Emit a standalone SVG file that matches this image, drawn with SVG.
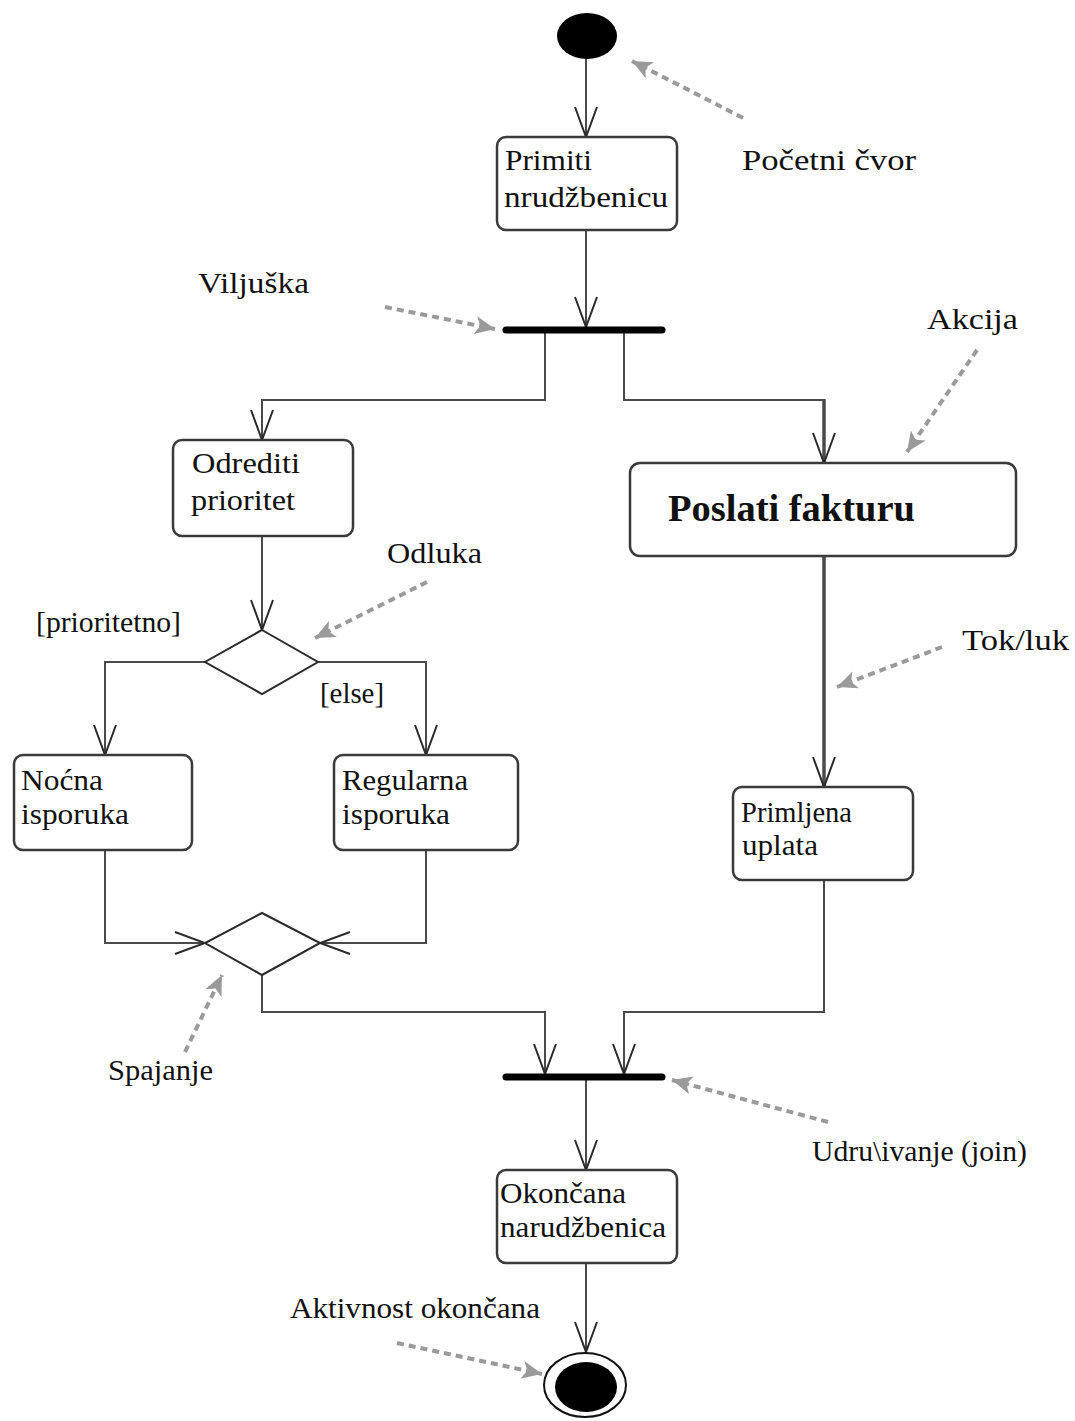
<svg xmlns="http://www.w3.org/2000/svg" width="1075" height="1421" viewBox="0 0 1075 1421">
  <style>
    .box { fill: #ffffff; stroke: #3a3a3a; stroke-width: 2.5; }
    .lbl { font-family: "Liberation Serif", "DejaVu Serif", serif; font-size: 30px; fill: #111111; }
    .big { font-family: "Liberation Serif", "DejaVu Serif", serif; font-size: 38px; font-weight: bold; fill: #111111; }
    .flow { fill: none; stroke: #4a4a4a; stroke-width: 2; marker-end: url(#open); }
    .seg { fill: none; stroke: #4a4a4a; stroke-width: 2; }
    .thick { stroke-width: 3.5; }
    .note { fill: none; stroke: #9a9a9a; stroke-width: 4; stroke-dasharray: 7 5; marker-end: url(#tri); }
    .bar { stroke: #000000; stroke-width: 7; stroke-linecap: round; }
  </style>
  <defs>
    <marker id="open" markerUnits="userSpaceOnUse" viewBox="-32 -13 34 26" refX="0" refY="0" markerWidth="34" markerHeight="26" orient="auto">
      <path d="M -30 -11 L 0 0 L -30 11" fill="none" stroke="#2a2a2a" stroke-width="2"/>
    </marker>
    <marker id="tri" markerUnits="userSpaceOnUse" viewBox="-22 -11 24 22" refX="0" refY="0" markerWidth="24" markerHeight="22" orient="auto">
      <path d="M -20 -9 L 0 0 L -20 9 L -15 0 Z" fill="#9a9a9a"/>
    </marker>
  </defs>

  <rect width="1075" height="1421" fill="#ffffff"/>

  <!-- control flows -->
  <g id="connectors">
    <path class="flow" d="M 586 58 L 586 137"/>
    <path class="flow" d="M 586 230 L 586 327"/>
    <path class="flow" d="M 545 333 L 545 400 L 262 400 L 262 440"/>
    <path class="seg" d="M 624 333 L 624 400 L 825 400"/>
    <path class="flow thick" d="M 824 399 L 824 463"/>
    <path class="flow" d="M 262 536 L 262 630"/>
    <path class="flow" d="M 205 662 L 105 662 L 105 755"/>
    <path class="flow" d="M 318 662 L 426 662 L 426 755"/>
    <path class="flow thick" d="M 824 556 L 824 787"/>
    <path class="flow" d="M 105 850 L 105 943 L 205 943"/>
    <path class="flow" d="M 426 850 L 426 943 L 320 943"/>
    <path class="flow" d="M 262 975 L 262 1012 L 545 1012 L 545 1074"/>
    <path class="flow" d="M 824 880 L 824 1012 L 624 1012 L 624 1074"/>
    <path class="flow" d="M 586 1080 L 586 1170"/>
    <path class="flow" d="M 586 1263 L 586 1352"/>
  </g>

  <!-- nodes -->
  <g id="start">
    <ellipse cx="587" cy="36" rx="30" ry="23" fill="#000000"/>
  </g>
  <g id="receive-order">
    <rect class="box" x="497" y="137" width="180" height="93" rx="9"/>
    <text class="lbl" x="505" y="170" textLength="87" lengthAdjust="spacingAndGlyphs">Primiti</text>
    <text class="lbl" x="504" y="207" textLength="164" lengthAdjust="spacingAndGlyphs">nrudžbenicu</text>
  </g>
  <g id="fork">
    <line class="bar" x1="506" y1="330" x2="662" y2="330"/>
  </g>
  <g id="set-priority">
    <rect class="box" x="173" y="440" width="180" height="96" rx="9"/>
    <text class="lbl" x="192" y="473" textLength="108" lengthAdjust="spacingAndGlyphs">Odrediti</text>
    <text class="lbl" x="191" y="510" textLength="104" lengthAdjust="spacingAndGlyphs">prioritet</text>
  </g>
  <g id="send-invoice">
    <rect class="box" x="630" y="463" width="386" height="93" rx="10"/>
    <text class="big" x="668" y="521" textLength="247" lengthAdjust="spacingAndGlyphs">Poslati fakturu</text>
  </g>
  <g id="decision">
    <polygon points="262,630 318,662 262,694 205,662" fill="#ffffff" stroke="#2a2a2a" stroke-width="2"/>
    <text class="lbl" x="36" y="632" textLength="145" lengthAdjust="spacingAndGlyphs">[prioritetno]</text>
    <text class="lbl" x="320" y="703" textLength="64" lengthAdjust="spacingAndGlyphs">[else]</text>
  </g>
  <g id="overnight-delivery">
    <rect class="box" x="14" y="755" width="178" height="95" rx="9"/>
    <text class="lbl" x="21" y="790" textLength="82" lengthAdjust="spacingAndGlyphs">Noćna</text>
    <text class="lbl" x="21" y="824" textLength="108" lengthAdjust="spacingAndGlyphs">isporuka</text>
  </g>
  <g id="regular-delivery">
    <rect class="box" x="334" y="755" width="184" height="95" rx="9"/>
    <text class="lbl" x="342" y="790" textLength="126" lengthAdjust="spacingAndGlyphs">Regularna</text>
    <text class="lbl" x="342" y="824" textLength="108" lengthAdjust="spacingAndGlyphs">isporuka</text>
  </g>
  <g id="payment-received">
    <rect class="box" x="733" y="787" width="180" height="93" rx="9"/>
    <text class="lbl" x="741" y="822" textLength="111" lengthAdjust="spacingAndGlyphs">Primljena</text>
    <text class="lbl" x="742" y="855" textLength="76" lengthAdjust="spacingAndGlyphs">uplata</text>
  </g>
  <g id="merge">
    <polygon points="262,913 320,943 262,975 205,943" fill="#ffffff" stroke="#2a2a2a" stroke-width="2"/>
  </g>
  <g id="join">
    <line class="bar" x1="506" y1="1077" x2="662" y2="1077"/>
  </g>
  <g id="order-complete">
    <rect class="box" x="497" y="1170" width="180" height="93" rx="9"/>
    <text class="lbl" x="500" y="1203" textLength="126" lengthAdjust="spacingAndGlyphs">Okončana</text>
    <text class="lbl" x="500" y="1237" textLength="166" lengthAdjust="spacingAndGlyphs">narudžbenica</text>
  </g>
  <g id="final">
    <ellipse cx="585" cy="1385" rx="41" ry="32" fill="#ffffff" stroke="#111111" stroke-width="2"/>
    <ellipse cx="586" cy="1387" rx="31" ry="25" fill="#000000"/>
  </g>

  <!-- explanatory callouts -->
  <g id="callouts">
    <path class="note" d="M 743 118 L 632 61"/>
    <text class="lbl" x="742" y="170" textLength="174" lengthAdjust="spacingAndGlyphs">Početni čvor</text>
    <path class="note" d="M 385 307 L 495 329"/>
    <text class="lbl" x="198" y="293" textLength="111" lengthAdjust="spacingAndGlyphs">Viljuška</text>
    <path class="note" d="M 977 350 L 907 452"/>
    <text class="lbl" x="927" y="329" textLength="91" lengthAdjust="spacingAndGlyphs">Akcija</text>
    <path class="note" d="M 427 582 L 315 638"/>
    <text class="lbl" x="387" y="563" textLength="95" lengthAdjust="spacingAndGlyphs">Odluka</text>
    <path class="note" d="M 942 647 L 837 687"/>
    <text class="lbl" x="962" y="650" textLength="107" lengthAdjust="spacingAndGlyphs">Tok/luk</text>
    <path class="note" d="M 185 1052 L 222 975"/>
    <text class="lbl" x="108" y="1080" textLength="105" lengthAdjust="spacingAndGlyphs">Spajanje</text>
    <path class="note" d="M 828 1122 L 672 1080"/>
    <text class="lbl" x="812" y="1161" textLength="215" lengthAdjust="spacingAndGlyphs">Udru\ivanje (join)</text>
    <path class="note" d="M 397 1343 L 542 1374"/>
    <text class="lbl" x="290" y="1318" textLength="250" lengthAdjust="spacingAndGlyphs">Aktivnost okončana</text>
  </g>
</svg>
